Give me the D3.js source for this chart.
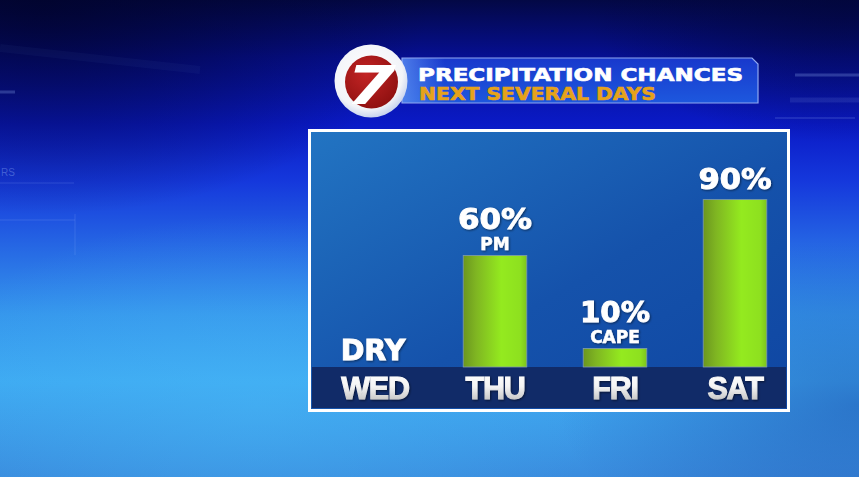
<!DOCTYPE html>
<html>
<head>
<meta charset="utf-8">
<script src="https://cdn.jsdelivr.net/npm/d3@7"></script>
<style>
  html, body { margin: 0; padding: 0; background: #0a1a9a; overflow: hidden; }
  svg { display: block; }
</style>
</head>
<body>
<script>
// ---- data ----
const days = ["WED", "THU", "FRI", "SAT"];
const chances = [0, 60, 10, 90];
const valueLabels = ["DRY", "60%", "10%", "90%"];
const subLabels = ["", "PM", "CAPE", ""];
const titleLine1 = "PRECIPITATION CHANCES";
const titleLine2 = "NEXT SEVERAL DAYS";

const W = 859, H = 477;
const svg = d3.select("body").append("svg").attr("width", W).attr("height", H);
const defs = svg.append("defs");

// ---- background gradients ----
const bg = defs.append("linearGradient").attr("id", "bg").attr("x1", 0).attr("y1", 0).attr("x2", 0).attr("y2", 1);
[[0, "#030845"], [0.12, "#060f92"], [0.26, "#0a1ac6"], [0.38, "#1538dc"], [0.52, "#2668e4"], [0.66, "#3596ec"], [0.8, "#3eaaf2"], [1, "#3a8cde"]]
  .forEach(([o, c]) => bg.append("stop").attr("offset", o).attr("stop-color", c));
const glow = defs.append("radialGradient").attr("id", "glow").attr("cx", 0.3).attr("cy", 0.85).attr("r", 0.4);
glow.append("stop").attr("offset", 0).attr("stop-color", "#48b8f6").attr("stop-opacity", 0.45);
glow.append("stop").attr("offset", 1).attr("stop-color", "#48b8f6").attr("stop-opacity", 0);
const dark = defs.append("radialGradient").attr("id", "dark").attr("cx", 0.05).attr("cy", 0.0).attr("r", 0.45);
dark.append("stop").attr("offset", 0).attr("stop-color", "#01032a").attr("stop-opacity", 0.8);
dark.append("stop").attr("offset", 1).attr("stop-color", "#01032a").attr("stop-opacity", 0);
const dark2 = defs.append("radialGradient").attr("id", "dark2").attr("cx", 0.98).attr("cy", 0.0).attr("r", 0.3);
dark2.append("stop").attr("offset", 0).attr("stop-color", "#02063a").attr("stop-opacity", 0.7);
dark2.append("stop").attr("offset", 1).attr("stop-color", "#02063a").attr("stop-opacity", 0);
const dark3 = defs.append("radialGradient").attr("id", "dark3").attr("cx", 1.0).attr("cy", 0.85).attr("r", 0.35);
dark3.append("stop").attr("offset", 0).attr("stop-color", "#1a4aa8").attr("stop-opacity", 0.5);
dark3.append("stop").attr("offset", 1).attr("stop-color", "#1a4aa8").attr("stop-opacity", 0);

svg.append("rect").attr("width", W).attr("height", H).attr("fill", "url(#bg)");
svg.append("rect").attr("width", W).attr("height", H).attr("fill", "url(#glow)");
svg.append("rect").attr("width", W).attr("height", H).attr("fill", "url(#dark)");
svg.append("rect").attr("width", W).attr("height", H).attr("fill", "url(#dark2)");
svg.append("rect").attr("width", W).attr("height", H).attr("fill", "url(#dark3)");

// faint decorative lines
const deco = svg.append("g").attr("stroke", "#9fc0ff").attr("fill", "none").attr("stroke-opacity", 0.18);
deco.append("line").attr("x1", 0).attr("y1", 183).attr("x2", 74).attr("y2", 183);
deco.append("line").attr("x1", 0).attr("y1", 220).attr("x2", 75).attr("y2", 220);
deco.append("line").attr("x1", 75).attr("y1", 214).attr("x2", 75).attr("y2", 255);
deco.append("line").attr("x1", 0).attr("y1", 92).attr("x2", 15).attr("y2", 92).attr("stroke-width", 3).attr("stroke-opacity", 0.25);
deco.append("line").attr("x1", 0).attr("y1", 48).attr("x2", 200).attr("y2", 70).attr("stroke-width", 8).attr("stroke-opacity", 0.04);
deco.append("line").attr("x1", 795).attr("y1", 75).attr("x2", 859).attr("y2", 75).attr("stroke-width", 3).attr("stroke-opacity", 0.25);
deco.append("line").attr("x1", 790).attr("y1", 100).attr("x2", 859).attr("y2", 100).attr("stroke-width", 5).attr("stroke-opacity", 0.12);
deco.append("line").attr("x1", 775).attr("y1", 118).attr("x2", 855).attr("y2", 118).attr("stroke-width", 1.5).attr("stroke-opacity", 0.2);
deco.append("text").attr("x", 1).attr("y", 176).attr("fill", "#9fc0ff").attr("fill-opacity", 0.35).attr("stroke", "none")
  .attr("font-family", "Liberation Sans").attr("font-size", 10).text("RS");

// ---- panel ----
const panelGrad = defs.append("linearGradient").attr("id", "panel").attr("x1", 0).attr("y1", 0).attr("x2", 1).attr("y2", 1);
panelGrad.append("stop").attr("offset", 0).attr("stop-color", "#2274c2");
panelGrad.append("stop").attr("offset", 0.55).attr("stop-color", "#1552ab");
panelGrad.append("stop").attr("offset", 1).attr("stop-color", "#0f46a2");

svg.append("rect").attr("x", 308).attr("y", 129).attr("width", 482).attr("height", 283).attr("fill", "#ffffff");
svg.append("rect").attr("x", 311).attr("y", 132).attr("width", 476).attr("height", 277).attr("fill", "url(#panel)");

const baseY = 367;
svg.append("rect").attr("x", 312).attr("y", baseY).attr("width", 474).attr("height", 41).attr("fill", "#112b68");

// ---- scales ----
const x = d3.scaleBand().domain(days).range([315, 795]).paddingInner(0.47).paddingOuter(0.235);
const y = d3.scaleLinear().domain([0, 100]).range([baseY, baseY - 186]);

// bar gradient
const barGrad = defs.append("linearGradient").attr("id", "bar").attr("x1", 0).attr("y1", 0).attr("x2", 1).attr("y2", 0);
[[0, "#6b961f"], [0.2, "#7fb522"], [0.6, "#94ea1f"], [0.9, "#8ee01f"], [1, "#7cc41e"]]
  .forEach(([o, c]) => barGrad.append("stop").attr("offset", o).attr("stop-color", c));

const data = days.map((d, i) => ({ day: d, v: chances[i], label: valueLabels[i], sub: subLabels[i] }));

svg.append("g").selectAll("rect").data(data.filter(d => d.v > 0)).join("rect")
  .attr("x", d => x(d.day))
  .attr("y", d => y(d.v))
  .attr("width", x.bandwidth())
  .attr("height", d => baseY - y(d.v))
  .attr("fill", "url(#bar)")
  .attr("stroke", "#7d9ab0").attr("stroke-width", 0.8);

// shadow filter
const sh = defs.append("filter").attr("id", "sh").attr("x", "-10%").attr("y", "-20%").attr("width", "130%").attr("height", "150%");
sh.append("feDropShadow").attr("dx", 1).attr("dy", 1).attr("stdDeviation", 0.8).attr("flood-color", "#000").attr("flood-opacity", 0.5);

// value labels
const widths = { "60%": 74, "10%": 70, "90%": 73 };
const lbl = svg.append("g").attr("font-family", "DejaVu Sans").attr("font-weight", "bold").attr("fill", "#ffffff")
  .attr("stroke", "#ffffff").attr("stroke-width", 0.9).attr("paint-order", "stroke")
  .attr("text-anchor", "middle").attr("filter", "url(#sh)");
data.forEach(d => {
  const cx = x(d.day) + x.bandwidth() / 2;
  const top = y(d.v);
  if (d.v === 0) {
    lbl.append("text").attr("x", cx - 2).attr("y", top - 7).attr("font-size", 28.5).text(d.label);
    return;
  }
  let mainBase;
  if (d.sub) {
    const subBase = top - 5;
    lbl.append("text").attr("x", cx).attr("y", subBase).attr("font-size", 17).attr("stroke-width", 0.5).text(d.sub);
    mainBase = subBase - 21;
  } else {
    mainBase = top - 11;
  }
  lbl.append("text").attr("x", cx).attr("y", mainBase).attr("font-size", 27.5)
    .attr("textLength", widths[d.label]).attr("lengthAdjust", "spacingAndGlyphs").text(d.label);
});

// day axis labels
const dayGrad = defs.append("linearGradient").attr("id", "dayg").attr("x1", 0).attr("y1", 0).attr("x2", 0).attr("y2", 1);
dayGrad.append("stop").attr("offset", 0).attr("stop-color", "#ffffff");
dayGrad.append("stop").attr("offset", 0.45).attr("stop-color", "#f4f4f4");
dayGrad.append("stop").attr("offset", 1).attr("stop-color", "#b8b8b8");

const axis = d3.axisBottom(x).tickSize(0).tickPadding(0);
const ax = svg.append("g").attr("transform", `translate(0,${baseY})`).call(axis);
ax.select(".domain").remove();
ax.selectAll("text")
  .attr("y", 32).attr("dy", null)
  .attr("font-family", "Liberation Sans").attr("font-weight", "bold").attr("font-size", 30.5)
  .attr("letter-spacing", -1.2)
  .attr("fill", "url(#dayg)").attr("stroke", "url(#dayg)").attr("stroke-width", 1).attr("paint-order", "stroke")
  .attr("filter", "url(#sh)");

// ---- title banner ----
const banGrad = defs.append("linearGradient").attr("id", "ban").attr("x1", 0).attr("y1", 0).attr("x2", 0).attr("y2", 1);
banGrad.append("stop").attr("offset", 0).attr("stop-color", "#1838cc");
banGrad.append("stop").attr("offset", 1).attr("stop-color", "#1d58de");
const banGlow = defs.append("linearGradient").attr("id", "banglow").attr("x1", 0).attr("y1", 0).attr("x2", 1).attr("y2", 0);
banGlow.append("stop").attr("offset", 0).attr("stop-color", "#5a8cf0").attr("stop-opacity", 0.8);
banGlow.append("stop").attr("offset", 0.12).attr("stop-color", "#5a8cf0").attr("stop-opacity", 0);

const banPath = "M402,58 L752,58 L758,64 L758,103 L402,103 Z";
svg.append("path").attr("d", banPath).attr("fill", "url(#ban)");
svg.append("path").attr("d", banPath).attr("fill", "url(#banglow)").attr("stroke", "#8fa8f0").attr("stroke-width", 1.2);

svg.append("text").attr("x", 418).attr("y", 80.5)
  .attr("font-family", "DejaVu Sans").attr("font-weight", "bold").attr("font-size", 17)
  .attr("fill", "#ffffff").attr("stroke", "#ffffff").attr("stroke-width", 0.6).attr("paint-order", "stroke")
  .attr("textLength", 325).attr("lengthAdjust", "spacingAndGlyphs")
  .text(titleLine1);
svg.append("text").attr("x", 419).attr("y", 99.5)
  .attr("font-family", "DejaVu Sans").attr("font-weight", "bold").attr("font-size", 17)
  .attr("fill", "#e6a21a").attr("stroke", "#e6a21a").attr("stroke-width", 0.6).attr("paint-order", "stroke")
  .attr("textLength", 237).attr("lengthAdjust", "spacingAndGlyphs")
  .text(titleLine2);

// ---- logo ----
const ringGrad = defs.append("radialGradient").attr("id", "ring").attr("cx", 0.45).attr("cy", 0.4).attr("r", 0.6);
ringGrad.append("stop").attr("offset", 0).attr("stop-color", "#ffffff");
ringGrad.append("stop").attr("offset", 0.8).attr("stop-color", "#f2f4f8");
ringGrad.append("stop").attr("offset", 1).attr("stop-color", "#c8d4ee");
const redGrad = defs.append("radialGradient").attr("id", "red").attr("cx", 0.4).attr("cy", 0.35).attr("r", 0.7);
redGrad.append("stop").attr("offset", 0).attr("stop-color", "#c32424");
redGrad.append("stop").attr("offset", 1).attr("stop-color", "#8e1010");

svg.append("circle").attr("cx", 371).attr("cy", 81).attr("r", 36.5).attr("fill", "url(#ring)");
svg.append("circle").attr("cx", 371.5).attr("cy", 82).attr("r", 26.5).attr("fill", "url(#red)");
svg.append("text").attr("x", 346).attr("y", 104)
  .attr("font-family", "DejaVu Sans").attr("font-weight", "bold").attr("font-style", "italic")
  .attr("font-size", 54).attr("fill", "#ffffff")
  .attr("textLength", 50).attr("lengthAdjust", "spacingAndGlyphs")
  .text("7");
</script>
</body>
</html>
